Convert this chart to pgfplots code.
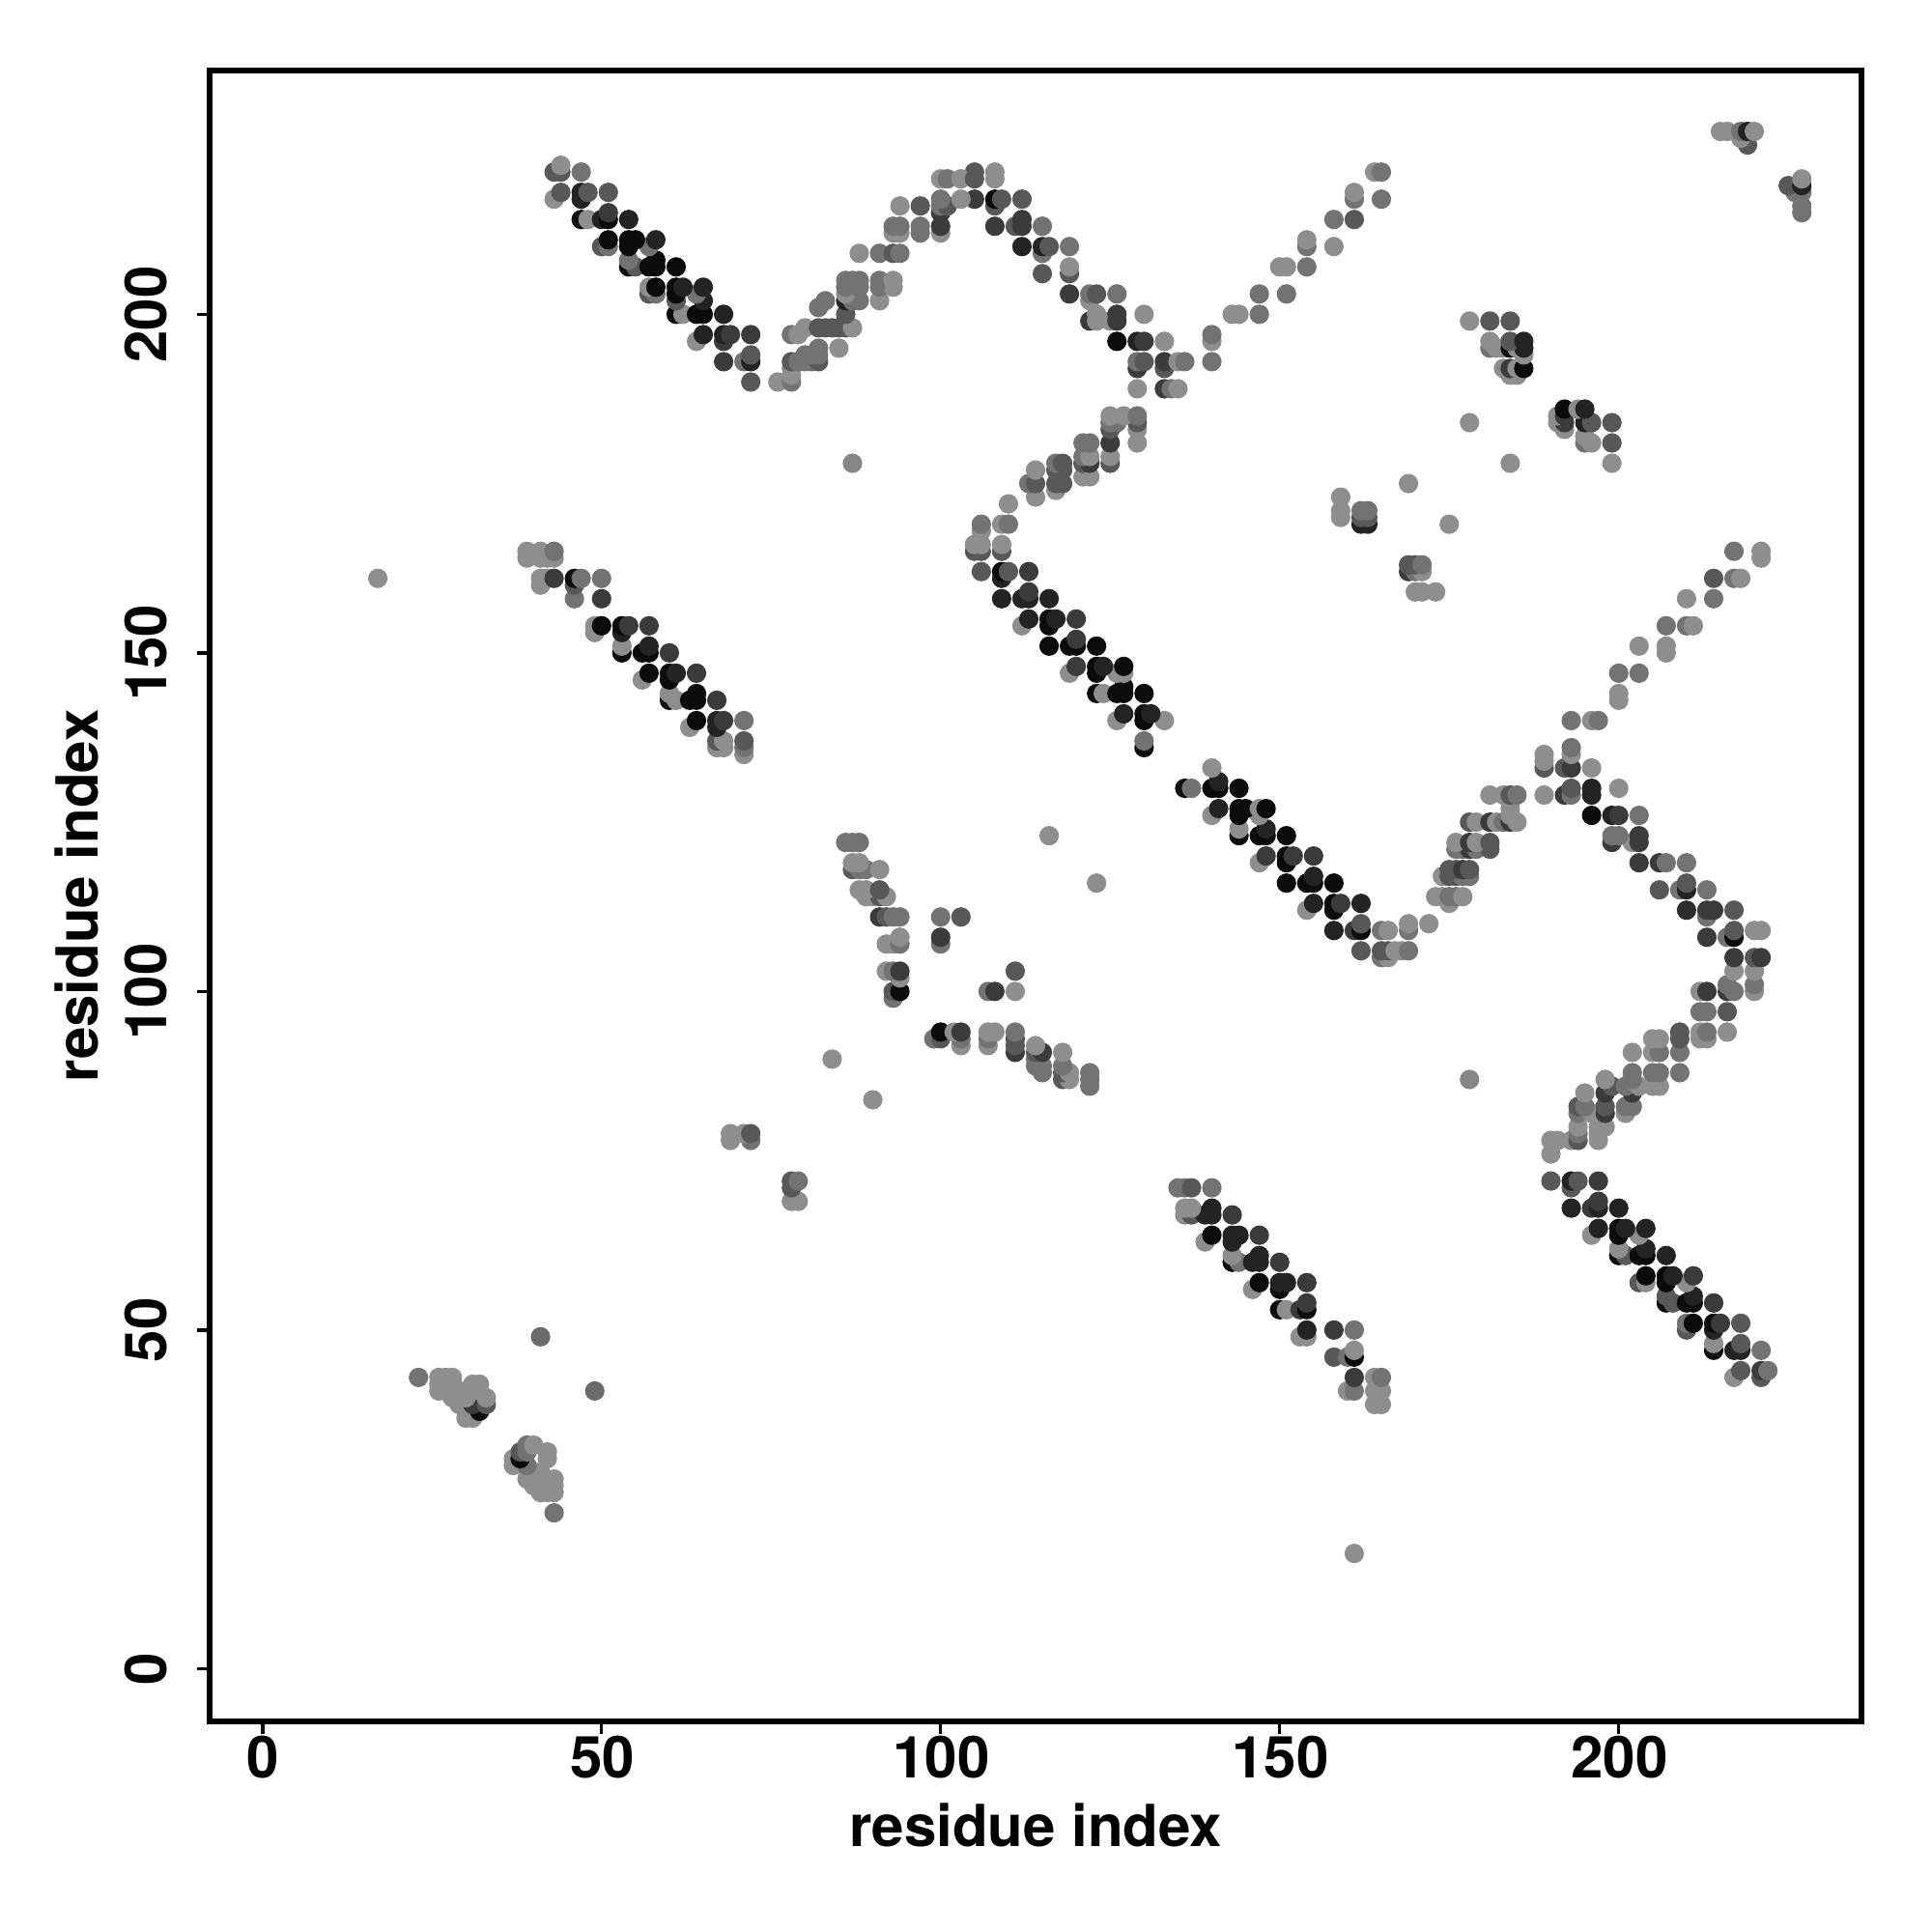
\documentclass[border=0pt]{standalone}
\usepackage{fontspec}
\setmainfont{TeX Gyre Heros}
\usepackage{pgfplots}
\pgfplotsset{compat=1.18}
\begin{document}
\begin{tikzpicture}[x=1cm,y=1cm]
\useasboundingbox (-1.519,-1.526) rectangle (12.481,12.474);
\begin{axis}[
  at={(0,0)},anchor=south west,scale only axis,
  width=11.97cm,height=11.963cm,
  xmin=-7.8,xmax=235.8,ymin=-7.8,ymax=236,
  axis line style={line width=1.05pt},
  tick style={line width=0.7pt,black},
  tick align=outside,major tick length=0.09cm,
  xtick={0,50,100,150,200},ytick={0,50,100,150,200},
  xtick pos=bottom,ytick pos=left,
  font=\bfseries\fontsize{11.95}{14}\selectfont,
  /pgf/number format/assume math mode=true,
  xticklabel style={anchor=center,yshift=-0.17cm,xshift=0.005cm},
  yticklabel style={rotate=90,anchor=center,yshift=0.375cm},
  xlabel={residue index},ylabel={residue index},
  xlabel style={at={(axis description cs:0.5,0)},anchor=center,yshift=-0.752cm},
  ylabel style={at={(axis description cs:0,0.5)},anchor=center,yshift=0.964cm},
  colormap={bw}{gray(0cm)=(0); gray(1cm)=(1)},
  point meta min=0,point meta max=96,
  clip=false,
]
\addplot[scatter,only marks,mark=*,mark size=1.83pt,line width=0.35pt,
  scatter src=explicit,
  scatter/use mapped color={draw=mapped color,fill=mapped color}]
 table[row sep=\\,header=false,x index=0,y index=1,meta index=2]{
161 17 53\\
43 23 43\\41 26 53\\42 26 53\\43 26 53\\40 27 53\\41 27 53\\43 27 53\\39 28 53\\40 28 53\\43 28 53\\40 29 53\\41 29 53\\37 30 53\\39 30 43\\37 31 53\\38 31 4\\42 31 53\\38 32 33\\39 32 43\\42 32 53\\39 33 43\\40 33 53\\
30 37 53\\31 37 53\\30 38 53\\32 38 4\\29 39 53\\30 39 53\\31 39 22\\33 39 33\\28 40 53\\29 40 53\\30 40 53\\33 40 53\\26 41 53\\27 41 53\\28 41 53\\29 41 53\\30 41 53\\31 41 53\\26 42 53\\27 42 53\\28 42 53\\31 42 53\\32 42 53\\23 43 43\\26 43 53\\27 43 53\\28 43 53\\41 49 40\\49 41 40\\
164 39 53\\165 39 53\\160 41 53\\161 41 43\\164 41 53\\165 41 53\\161 43 22\\164 43 53\\165 43 43\\158 46 33\\160 46 43\\161 46 4\\161 47 53\\153 49 53\\154 49 53\\154 50 13\\158 50 22\\161 50 43\\150 53 4\\151 53 53\\153 53 22\\154 53 4\\154 54 22\\146 56 53\\150 56 4\\147 57 4\\150 57 13\\151 57 13\\154 57 22\\143 60 4\\144 60 43\\146 60 13\\147 60 13\\150 60 22\\143 61 53\\147 61 13\\139 63 53\\143 63 13\\140 64 4\\143 64 13\\144 64 13\\147 64 22\\136 67 53\\137 67 33\\139 67 13\\140 67 13\\143 67 22\\136 68 53\\137 68 53\\140 68 13\\135 71 43\\136 71 43\\137 71 33\\140 71 43\\
217 43 53\\221 43 33\\218 44 33\\221 44 22\\222 44 43\\214 47 4\\217 47 13\\218 47 13\\221 47 43\\214 48 53\\218 48 33\\210 50 33\\214 50 13\\210 51 43\\211 51 4\\214 51 4\\215 51 22\\218 51 33\\207 54 4\\208 54 33\\210 54 4\\211 54 4\\214 54 22\\207 55 33\\211 55 13\\203 57 33\\204 57 53\\207 57 4\\210 57 53\\204 58 4\\207 58 4\\208 58 13\\211 58 22\\200 61 4\\201 61 33\\203 61 4\\204 61 4\\207 61 13\\200 62 53\\204 62 13\\196 64 53\\200 64 4\\203 64 53\\197 65 13\\200 65 4\\201 65 13\\204 65 13\\193 68 13\\196 68 22\\197 68 13\\200 68 13\\197 69 22\\193 71 33\\190 72 33\\193 72 13\\194 72 33\\197 72 22\\
190 76 53\\190 78 53\\191 78 53\\193 78 53\\194 78 33\\197 78 53\\194 79 43\\197 79 53\\194 80 53\\197 80 53\\198 80 53\\194 82 43\\196 82 53\\198 82 22\\201 82 53\\194 83 33\\195 83 43\\198 83 33\\201 83 43\\202 83 43\\195 85 53\\198 85 22\\202 85 22\\199 86 33\\201 86 43\\203 86 53\\205 86 53\\206 86 53\\198 87 53\\202 87 43\\202 88 43\\205 88 43\\206 88 43\\209 88 43\\202 91 53\\205 91 53\\206 91 43\\209 91 43\\205 93 53\\206 93 53\\209 93 33\\212 93 53\\213 93 53\\209 94 33\\212 94 53\\213 94 43\\216 94 53\\212 97 43\\213 97 43\\216 97 33\\212 100 53\\213 100 22\\216 100 22\\217 100 43\\220 100 53\\216 101 43\\220 101 43\\217 103 53\\220 103 53\\217 105 22\\220 105 33\\221 105 22\\213 108 22\\216 108 43\\217 108 4\\217 109 33\\220 109 53\\221 109 53\\213 111 43\\210 112 17\\213 112 22\\214 112 22\\217 112 33\\206 115 33\\209 115 43\\210 115 13\\213 115 43\\210 116 33\\203 119 22\\206 119 22\\207 119 43\\210 119 43\\199 122 22\\202 122 53\\203 122 22\\199 123 43\\200 123 43\\203 123 22\\196 126 4\\199 126 13\\200 126 22\\203 126 43\\189 129 53\\192 129 22\\193 129 43\\196 129 13\\193 130 33\\196 130 13\\200 130 53\\189 133 33\\192 133 33\\193 133 22\\196 133 53\\189 134 53\\189 135 53\\193 135 53\\193 136 43\\193 140 43\\196 140 53\\197 140 43\\200 143 53\\200 144 53\\200 147 43\\203 147 43\\207 150 53\\203 151 53\\207 151 53\\207 154 43\\210 154 43\\211 154 53\\210 158 53\\214 158 43\\214 161 33\\217 161 43\\218 161 53\\221 164 53\\217 165 43\\221 165 53\\
165 105 43\\166 105 53\\162 106 33\\165 106 33\\166 106 33\\167 106 53\\168 106 53\\169 106 43\\158 109 13\\161 109 22\\162 109 4\\165 109 43\\166 109 53\\169 109 43\\162 110 33\\169 110 53\\172 110 53\\175 113 53\\173 114 53\\174 114 53\\175 114 43\\176 114 43\\177 114 53\\174 117 53\\175 117 33\\176 117 33\\177 117 43\\178 117 43\\175 118 33\\176 118 33\\177 118 22\\178 118 33\\176 121 43\\177 121 43\\178 121 22\\179 121 43\\181 121 33\\176 122 53\\178 122 22\\179 122 53\\181 122 33\\178 125 33\\179 125 53\\181 125 22\\182 125 53\\183 125 43\\184 125 22\\185 125 53\\184 126 53\\184 127 53\\181 129 53\\183 129 53\\184 129 33\\185 129 43\\
154 112 53\\158 112 4\\155 113 13\\158 113 4\\159 113 22\\162 113 13\\151 116 4\\154 116 4\\155 116 4\\158 116 4\\155 117 13\\147 119 53\\151 119 4\\148 120 22\\151 120 4\\152 120 22\\155 120 22\\144 123 4\\147 123 4\\148 123 4\\151 123 4\\144 124 53\\148 124 13\\140 126 53\\144 126 4\\147 126 53\\141 127 13\\144 127 4\\145 127 4\\147 127 53\\148 127 4\\136 130 4\\137 130 43\\140 130 4\\141 130 4\\144 130 4\\141 131 13\\140 133 53\\
130 136 4\\130 137 43\\126 140 53\\130 140 4\\133 140 53\\127 141 13\\130 141 4\\131 141 13\\123 144 4\\124 144 53\\126 144 4\\127 144 4\\130 144 4\\127 145 4\\119 147 53\\123 147 4\\126 147 53\\127 147 53\\120 148 22\\123 148 4\\124 148 13\\127 148 4\\116 151 4\\119 151 4\\120 151 4\\123 151 4\\120 152 22\\112 154 53\\116 154 4\\113 155 13\\116 155 4\\117 155 13\\120 155 22\\109 158 13\\112 158 13\\113 158 13\\116 158 13\\113 159 22\\109 161 13\\106 162 33\\109 162 4\\110 162 33\\113 162 22\\105 165 33\\106 165 33\\109 165 33\\105 166 53\\106 166 53\\109 166 53\\106 168 53\\106 169 43\\109 169 53\\110 169 43\\
110 172 53\\114 173 53\\117 174 53\\113 175 43\\114 175 33\\117 175 33\\118 175 33\\121 176 53\\122 176 53\\114 177 53\\117 177 33\\118 177 33\\117 178 43\\118 178 33\\121 178 33\\122 178 22\\125 178 33\\121 179 43\\122 179 53\\125 179 53\\121 181 43\\122 181 43\\125 181 22\\129 181 53\\125 183 33\\129 183 53\\125 184 43\\126 184 43\\129 184 33\\125 185 53\\127 185 53\\129 185 43\\129 189 53\\133 189 22\\134 189 43\\135 189 53\\
129 192 22\\133 192 33\\129 193 43\\130 193 33\\133 193 22\\135 193 53\\136 193 43\\140 193 43\\126 196 4\\129 196 13\\130 196 22\\133 196 53\\140 196 53\\140 197 43\\122 199 22\\123 199 53\\125 199 53\\126 199 22\\123 200 53\\126 200 22\\130 200 53\\143 200 53\\144 200 53\\147 200 43\\122 202 53\\119 203 22\\122 203 43\\123 203 33\\126 203 43\\147 203 43\\151 203 43\\115 206 33\\119 206 33\\119 207 53\\150 207 53\\151 207 53\\154 207 43\\115 209 43\\112 210 13\\115 210 13\\116 210 33\\119 210 43\\154 210 43\\158 210 53\\154 211 53\\108 213 22\\111 213 33\\112 213 22\\115 213 43\\112 214 22\\158 214 43\\161 214 33\\108 216 33\\105 217 22\\108 217 4\\109 217 33\\112 217 33\\161 217 43\\165 217 43\\161 218 53\\105 221 33\\108 221 53\\164 221 53\\165 221 43\\
76 190 53\\78 190 43\\78 191 53\\78 192 53\\78 193 33\\79 193 43\\80 193 43\\81 193 43\\82 193 33\\80 194 43\\81 194 43\\82 194 43\\82 195 43\\85 195 53\\78 197 43\\79 197 53\\80 198 53\\82 198 33\\83 198 33\\84 198 33\\85 198 33\\86 198 33\\87 198 53\\86 200 33\\82 201 43\\83 202 43\\86 202 13\\87 202 43\\88 202 43\\91 202 53\\86 203 53\\86 204 43\\88 204 43\\91 204 43\\93 204 53\\86 205 43\\87 205 43\\88 205 43\\91 205 43\\93 205 53\\88 209 53\\91 209 43\\93 209 33\\94 209 43\\93 212 53\\94 212 53\\97 212 43\\100 212 53\\93 213 43\\94 213 43\\97 213 43\\100 213 22\\100 215 22\\94 216 53\\97 216 33\\100 216 43\\101 216 33\\100 217 43\\103 217 53\\100 220 53\\101 220 43\\103 220 53\\105 220 33\\108 220 53\\
72 190 33\\68 193 22\\71 193 43\\72 193 13\\72 194 33\\64 196 53\\68 196 22\\65 197 13\\68 197 13\\69 197 22\\72 197 22\\61 200 4\\62 200 53\\64 200 4\\65 200 4\\68 200 13\\61 202 33\\65 202 13\\57 203 33\\58 203 43\\61 203 4\\64 203 43\\57 204 53\\58 204 4\\61 204 4\\62 204 13\\65 204 13\\54 207 4\\55 207 33\\57 207 4\\58 207 4\\61 207 4\\54 208 43\\58 208 4\\50 210 33\\51 210 43\\54 210 4\\57 210 43\\51 211 4\\54 211 4\\55 211 4\\58 211 13\\47 214 4\\48 214 53\\50 214 13\\51 214 4\\54 214 13\\51 215 22\\43 217 53\\47 217 13\\44 218 33\\47 218 13\\48 218 33\\51 218 33\\43 221 33\\44 221 33\\47 221 43\\44 222 53\\
71 135 53\\67 136 53\\68 136 53\\71 136 43\\67 137 33\\68 137 53\\71 137 33\\63 139 53\\67 139 13\\64 140 4\\67 140 13\\68 140 22\\71 140 43\\60 143 4\\61 143 53\\63 143 4\\64 143 4\\67 143 22\\60 144 53\\64 144 4\\56 146 53\\60 146 4\\57 147 4\\60 147 4\\61 147 13\\64 147 22\\53 150 4\\56 150 4\\57 150 4\\60 150 22\\53 151 53\\57 151 13\\49 153 53\\53 153 13\\49 154 53\\50 154 4\\53 154 4\\54 154 22\\57 154 22\\46 158 43\\50 158 22\\41 160 53\\46 160 33\\17 161 53\\41 161 53\\42 161 53\\43 161 22\\46 161 4\\47 161 43\\50 161 43\\39 164 53\\41 164 53\\42 164 53\\43 164 53\\39 165 53\\41 165 53\\43 165 43\\
170 159 53\\171 159 53\\173 159 53\\169 162 22\\170 162 43\\171 162 53\\169 163 33\\170 163 33\\171 163 43\\162 169 13\\163 169 13\\175 169 53\\159 170 53\\162 170 33\\163 170 33\\159 171 53\\162 171 43\\163 171 43\\159 173 53\\169 175 53\\
184 178 53\\199 178 53\\195 181 43\\196 181 53\\199 181 33\\195 182 53\\192 183 53\\178 184 53\\191 184 53\\192 184 22\\195 184 13\\196 184 33\\199 184 33\\191 185 53\\192 185 22\\192 186 4\\194 186 53\\195 186 13\\184 191 53\\185 191 53\\183 192 53\\184 192 22\\185 192 53\\186 192 4\\186 194 53\\181 195 43\\182 195 53\\183 195 53\\184 195 4\\185 195 53\\186 195 13\\181 196 53\\184 196 33\\186 196 13\\178 199 53\\181 199 33\\184 199 33\\
227 215 43\\227 216 43\\226 218 43\\227 218 43\\225 219 33\\227 219 13\\227 220 53\\219 225 33\\218 226 53\\215 227 53\\216 227 53\\218 227 43\\219 227 13\\220 227 53\\
122 86 43\\118 87 33\\119 87 53\\122 87 43\\115 88 43\\118 88 33\\119 88 53\\122 88 43\\114 89 43\\115 89 43\\118 89 43\\84 90 53\\114 90 43\\111 91 22\\114 91 33\\115 91 22\\118 91 53\\103 92 53\\107 92 53\\111 92 33\\114 92 53\\99 93 43\\100 93 33\\103 93 43\\107 93 43\\111 93 33\\100 94 4\\102 94 53\\103 94 22\\107 94 53\\108 94 53\\111 94 43\\93 99 43\\93 100 33\\94 100 4\\107 100 43\\108 100 22\\111 100 53\\94 102 53\\92 103 53\\93 103 43\\94 103 22\\111 103 33\\92 107 53\\93 107 53\\94 107 43\\100 107 43\\94 108 53\\100 108 22\\91 111 22\\92 111 33\\93 111 43\\94 111 43\\100 111 43\\103 111 33\\89 114 53\\90 114 53\\91 114 33\\92 114 53\\88 115 53\\89 115 53\\91 115 33\\87 118 33\\88 118 43\\89 118 43\\91 118 53\\87 119 53\\88 119 53\\86 122 43\\87 122 43\\88 122 43\\
116 123 53\\123 116 53\\90 84 53\\87 178 50\\178 87 50\\
69 78 53\\72 78 43\\69 79 53\\71 79 53\\72 79 33\\78 69 53\\79 69 53\\78 71 33\\78 72 33\\79 72 43\\
};
\end{axis}
\end{tikzpicture}
\end{document}
